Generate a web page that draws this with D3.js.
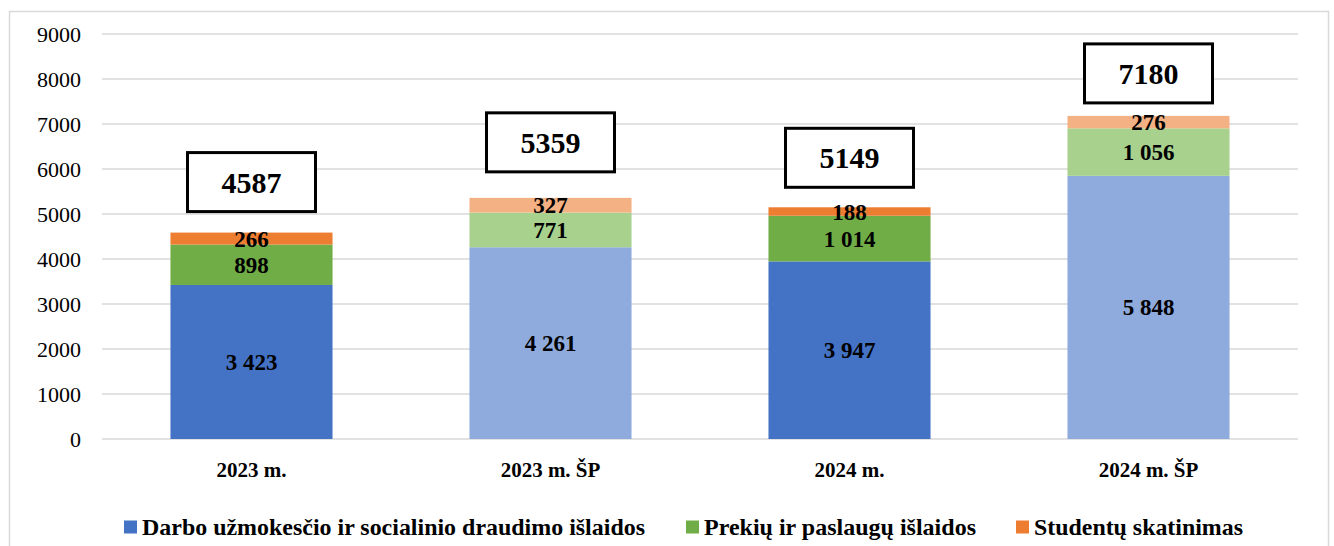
<!DOCTYPE html>
<html><head><meta charset="utf-8">
<script src="https://cdn.jsdelivr.net/npm/d3@7"></script>
<style>body{margin:0;background:#fff}svg{display:block}</style>
</head><body><svg id="c" width="1334" height="546"></svg>
<script>
const categories = ["2023 m.", "2023 m. ŠP", "2024 m.", "2024 m. ŠP"];
const wages = [3423, 4261, 3947, 5848];
const goods = [898, 771, 1014, 1056];
const students = [266, 327, 188, 276];
const totals = [4587, 5359, 5149, 7180];
const seriesNames = ["Darbo užmokesčio ir socialinio draudimo išlaidos", "Prekių ir paslaugų išlaidos", "Studentų skatinimas"];
const yTicks = [0,1000,2000,3000,4000,5000,6000,7000,8000,9000];

// layout / style config
const darkColors = ["#4472C4", "#70AD47", "#ED7D31"];
const lightColors = ["#8FAADC", "#A9D18E", "#F4B183"];
const lightCat = [false, true, false, true];
const boxGap = [21, 26, 20, 13];
const legX = [124, 686, 1016];
const legLen = [503, 272, 209];
const FONT = '"Liberation Serif"';

const svg = d3.select("#c");
svg.append("rect").attr("x",9.5).attr("y",11.5).attr("width",1319).attr("height",560)
  .attr("fill","#fff").attr("stroke","#d9d9d9").attr("stroke-width",1.5);

const x = d3.scaleBand().domain(categories).range([102,1298]).paddingInner(0.458).paddingOuter(0.229);
const y = d3.scaleLinear().domain([0,9000]).range([439,34]);

svg.append("g").selectAll("line").data(yTicks).join("line")
  .attr("x1",102).attr("x2",1298).attr("y1",d=>y(d)).attr("y2",d=>y(d))
  .attr("stroke","#d9d9d9").attr("stroke-width",1.5);

const yAxis = svg.append("g").attr("transform","translate(102,0)")
  .call(d3.axisLeft(y).tickValues(yTicks).tickSize(0).tickPadding(21).tickFormat(d3.format("d")));
yAxis.select(".domain").remove();
yAxis.attr("font-family",null);
yAxis.selectAll("text").style("font-family",FONT).style("font-size","22px").attr("fill","#000");

const xAxis = svg.append("g").attr("transform","translate(0,439)")
  .call(d3.axisBottom(x).tickSize(0).tickPadding(0));
xAxis.select(".domain").remove();
xAxis.attr("font-family",null);
xAxis.selectAll("text").attr("dy",null).attr("y",38)
  .style("font-family",FONT).style("font-size","21px").style("font-weight","bold").attr("fill","#000");

const rows = categories.map((c,i)=>({c, i, vals:[wages[i], goods[i], students[i]]}));
const stacked = d3.stack().keys([0,1,2]).value((d,k)=>d.vals[k])(rows);
const fmt = v => d3.format(",")(v).replace(/,/g," ");

stacked.forEach((layer,k)=>{
  svg.append("g").selectAll("rect").data(layer).join("rect")
    .attr("x",d=>x(d.data.c)).attr("width",x.bandwidth())
    .attr("y",d=>y(d[1])).attr("height",d=>y(d[0])-y(d[1]))
    .attr("fill",d=>lightCat[d.data.i]?lightColors[k]:darkColors[k]);
});
stacked.forEach((layer,k)=>{
  svg.append("g").selectAll("text").data(layer).join("text")
    .attr("x",d=>x(d.data.c)+x.bandwidth()/2)
    .attr("y",d=>(y(d[0])+y(d[1]))/2)
    .attr("dy","0.35em").attr("text-anchor","middle")
    .style("font-family",FONT).style("font-size","23px").style("font-weight","bold").attr("fill","#000")
    .text(d=>fmt(d.data.vals[k]));
});

const boxes = svg.append("g").selectAll("g").data(categories).join("g");
boxes.append("rect")
  .attr("x",(d,i)=>x(d)+x.bandwidth()/2-64).attr("y",(d,i)=>y(totals[i])-boxGap[i]-59)
  .attr("width",128).attr("height",59).attr("fill","#fff").attr("stroke","#000").attr("stroke-width",3);
boxes.append("text")
  .attr("x",(d,i)=>x(d)+x.bandwidth()/2).attr("y",(d,i)=>y(totals[i])-boxGap[i]-29.5)
  .attr("dy","0.35em").attr("text-anchor","middle")
  .style("font-family",FONT).style("font-size","30px").style("font-weight","bold").attr("fill","#000")
  .text((d,i)=>totals[i]);

const leg = svg.append("g").selectAll("g").data(seriesNames).join("g")
  .attr("transform",(d,i)=>`translate(${legX[i]},527)`);
leg.append("rect").attr("x",0).attr("y",-6.5).attr("width",13).attr("height",13).attr("fill",(d,i)=>darkColors[i]);
leg.append("text").attr("x",18).attr("dy","0.35em")
  .attr("textLength",(d,i)=>legLen[i]).attr("lengthAdjust","spacingAndGlyphs")
  .style("font-family",FONT).style("font-size","24px").style("font-weight","bold").attr("fill","#000")
  .text(d=>d);
</script></body></html>
